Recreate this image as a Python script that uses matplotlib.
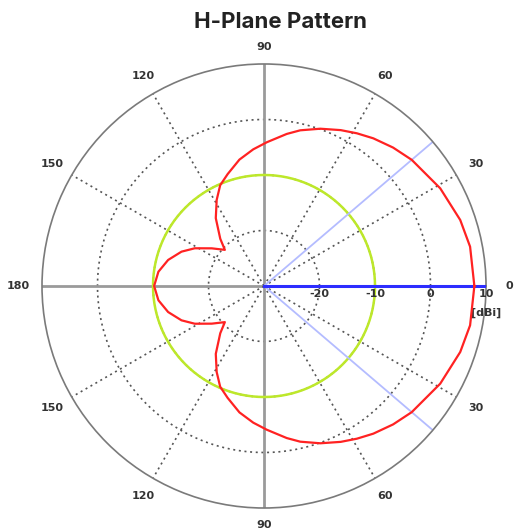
import numpy as np
import matplotlib.pyplot as plt

# measured H-plane gain, upper half (deg, dBi); pattern is symmetric about 0 deg
ang_half = [0, 10.8, 18.6, 29, 40.5, 47, 53.5, 58.7, 63.8, 70.3, 76.9, 81.5, 88.9, 94.5, 101,
            108, 113.5, 118.8, 125.4, 132.8, 137.3, 144.2, 151.4, 157.4, 164.8, 172.3, 180]
gain_half = [7.9, 7.8, 7.3, 6.3, 5.0, 4.1, 3.1, 2.2, 1.3, 0.1, -1.2, -2.3, -4.1, -5.3, -6.8,
             -8.8, -10.2, -12.3, -15.0, -18.4, -20.4, -18.4, -15.8, -13.9, -12.1, -10.8, -10.2]

ref_level = -10          # green reference circle
hpbw_edges = [40.5, -40.5]  # half-power beam edges
r_ticks = [-20, -10, 0, 10]
r_min, r_max = -30, 10
ang_ticks = [0, 30, 60, 90, 120, 150, 180, 210, 240, 270, 300, 330]
ang_labels = ['0', '30', '60', '90', '120', '150', '180', '150', '120', '90', '60', '30']

# full pattern by mirroring the upper half
ang = np.array(ang_half + [360 - a for a in ang_half[::-1][1:]])
gain = np.array(gain_half + gain_half[::-1][1:])

fig = plt.figure(figsize=(5.16, 5.31), dpi=100)
ax = fig.add_axes([0.0814, 0.0433, 0.8605, 0.8362], projection='polar')
ax.set_rlim(r_min, r_max)
ax.set_xticks([])
ax.set_yticks([])
ax.grid(False)
ax.spines['polar'].set_color('#7a7a7a')
ax.spines['polar'].set_linewidth(1.2)

# dotted rings and spokes
th = np.linspace(0, 2 * np.pi, 361)
for r in r_ticks[:-1]:
    ax.plot(th, np.full_like(th, r), ls=(0, (1.2, 2.2)), color='#555555', lw=1.2, zorder=1)
for a in ang_ticks:
    t = np.deg2rad(a)
    if a % 90 == 0:
        ax.plot([t, t], [r_min, r_max], color='#9a9a9a', lw=2, zorder=1)
    else:
        ax.plot([t, t], [r_min, r_max], ls=(0, (1.2, 2.2)), color='#555555', lw=1.2, zorder=1)

# reference circle, beam markers, pattern
ax.plot(th, np.full_like(th, ref_level), color='#bde82a', lw=1.8, zorder=2)
for a in hpbw_edges:
    ax.plot([np.deg2rad(a)] * 2, [r_min, r_max], color='#b4bcff', lw=1.3, zorder=2)
ax.plot([0, 0], [r_min, r_max], color='#2d2dff', lw=2.2, zorder=3)
ax.plot(np.deg2rad(ang), gain, color='#ff2222', lw=1.6, zorder=4)

# angle labels, pushed out a bit more at the sides
for a, lab in zip(ang_ticks, ang_labels):
    t = np.deg2rad(a)
    ax.text(t, 13.1 + 1.1 * abs(np.cos(t)), lab, ha='center', va='center', fontsize=8,
            fontweight='bold', color='#333333', clip_on=False)

# radial labels
for r in r_ticks:
    ax.annotate(str(r), (0, r), xytext=(0, -5.5), textcoords='offset points',
                ha='center', va='center', fontsize=8, fontweight='bold', color='#333333',
                annotation_clip=False)
ax.annotate('[dBi]', (0, r_max), xytext=(0, -19.5), textcoords='offset points',
            ha='center', va='center', fontsize=8, fontweight='bold', color='#333333',
            annotation_clip=False)

fig.text(281 / 516, 1 - 22 / 531, 'H-Plane Pattern', ha='center', va='center',
         fontsize=16, fontweight='bold', family='Inter', color='#222222')

plt.savefig('out.png', dpi=100)
